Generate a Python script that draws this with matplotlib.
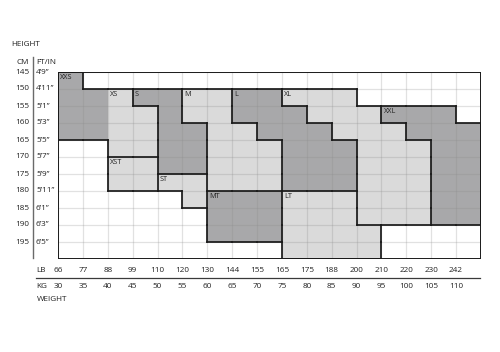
import matplotlib
matplotlib.use("Agg")
import matplotlib.pyplot as plt
from matplotlib.patches import Rectangle
from matplotlib.collections import LineCollection
from matplotlib.transforms import blended_transform_factory as btf

plt.rcParams['font.family'] = ['Open Sans', 'DejaVu Sans']

# ---- data ----
cm_values = [145, 150, 155, 160, 165, 170, 175, 180, 185, 190, 195]
ftin_labels = ["4’9”", "4’11”", "5’1”", "5’3”", "5’5”", "5’7”", "5’9”", "5’11”",
               "6’1”", "6’3”", "6’5”"]
kg_values = [30, 35, 40, 45, 50, 55, 60, 65, 70, 75, 80, 85, 90, 95, 100, 105, 110]
lb_labels = ["66", "77", "88", "99", "110", "120", "130", "144", "155", "165",
             "175", "188", "200", "210", "220", "230", "242"]

# each size: rows of (cm_top, cm_bottom, kg_left, kg_right)
XXS = [(145, 150, 30, 35), (150, 165, 30, 40)]
XS = [(150, 155, 40, 45), (155, 170, 40, 50)]
S = [(150, 155, 45, 55), (155, 160, 50, 55), (160, 175, 50, 60)]
M = [(150, 160, 55, 65), (160, 165, 60, 70), (165, 180, 60, 75)]
L = [(150, 155, 65, 75), (155, 160, 65, 80), (160, 165, 70, 85), (165, 180, 75, 90)]
XL = [(150, 155, 75, 90), (155, 160, 80, 95), (160, 165, 85, 100), (165, 190, 90, 105)]
XXL = [(155, 160, 95, 110), (160, 165, 100, 115), (165, 190, 105, 115)]
XST = [(170, 180, 40, 50)]
ST = [(175, 180, 50, 60), (180, 185, 55, 60)]
MT = [(180, 195, 60, 75)]
LT = [(180, 190, 75, 90), (190, 200, 75, 95)]

size_names = ["XXS", "XS", "S", "M", "L", "XL", "XXL", "XST", "ST", "MT", "LT"]
size_rows = [XXS, XS, S, M, L, XL, XXL, XST, ST, MT, LT]
size_shade = ["dark", "light", "dark", "light", "dark", "light", "dark",
              "light", "light", "dark", "light"]

DARK = "#a8a8aa"
LIGHT = "#dadada"

# ---- figure ----
W, H = 500, 352
fig = plt.figure(figsize=(W / 100, H / 100), dpi=100)
fig.patch.set_facecolor("white")
x0, x1, y0, y1 = 58, 481, 72, 259
ax = fig.add_axes([x0 / W, 1 - y1 / H, (x1 - x0) / W, (y1 - y0) / H])
ax.set_xlim(30, 115)
ax.set_ylim(200, 145)
ax.set_axis_off()

def fx(px):
    return px / W

def fy(py):
    return 1 - py / H

# fills
for name, rows, shade in zip(size_names, size_rows, size_shade):
    col = DARK if shade == "dark" else LIGHT
    for (t, b, l, r) in rows:
        ax.add_patch(Rectangle((l, t), r - l, b - t, facecolor=col,
                               edgecolor="none", zorder=1))

# grid
for k in range(30, 116, 5):
    ax.plot([k, k], [145, 200], color="#8a8a8a", alpha=0.25, lw=0.9, zorder=2)
for c in range(145, 201, 5):
    ax.plot([30, 115], [c, c], color="#8a8a8a", alpha=0.25, lw=0.9, zorder=2)

# outlines: unit edges of each size region (XXS/XS shared edge left unlined)
edges = set()
for rows in size_rows:
    n = len(rows)
    for i, (t, b, l, r) in enumerate(rows):
        for c in range(t, b, 5):
            edges.add(((l, c), (l, c + 5)))
            edges.add(((r, c), (r, c + 5)))
        # top edge
        if i == 0:
            segs_t = [(l, r)]
        else:
            pt, pb, pl, pr = rows[i - 1]
            segs_t = [(min(l, pl), max(l, pl)), (min(r, pr), max(r, pr))]
        for (a, bb) in segs_t:
            for k in range(a, bb, 5):
                edges.add(((k, t), (k + 5, t)))
        if i == n - 1:
            for k in range(l, r, 5):
                edges.add(((k, b), (k + 5, b)))
skip = {((40, 150), (40, 155)), ((40, 155), (40, 160)), ((40, 160), (40, 165))}
segs = [e for e in edges if e not in skip]
ax.add_collection(LineCollection(segs, colors="#1a1a1a", linewidths=1.25,
                                 capstyle="projecting", zorder=3))

# labels of sizes
for name, rows in zip(size_names, size_rows):
    t, b, l, r = rows[0]
    ax.text(l + 0.45, t + 0.55, name, fontsize=5.2, color="#222222",
            ha="left", va="top", zorder=4)

# border
ax.add_patch(Rectangle((30, 145), 85, 55, fill=False, edgecolor="#1a1a1a",
                       lw=1.4, zorder=5))

FS = 5.9
TXT = "#222222"
# left axis
tl = btf(fig.transFigure, ax.transData)
fig.text(fx(11.5), fy(45), "HEIGHT", fontsize=FS, ha="left", va="center", color=TXT)
fig.text(fx(29), fy(62), "CM", fontsize=FS, ha="right", va="center", color=TXT)
fig.text(fx(36), fy(62), "FT/IN", fontsize=FS, ha="left", va="center", color=TXT)
fig.add_artist(plt.Line2D([fx(32.5), fx(32.5)], [fy(57), fy(258)],
                          color="#6a6a6a", lw=1.0))
for c, f in zip(cm_values, ftin_labels):
    fig.text(fx(29), c, str(c), fontsize=FS, ha="right", va="center",
             color=TXT, transform=tl)
    fig.text(fx(36), c, f, fontsize=FS, ha="left", va="center",
             color=TXT, transform=tl)

# bottom axis
tb = btf(ax.transData, fig.transFigure)
fig.text(fx(36.5), fy(270.5), "LB", fontsize=FS, ha="left", va="center", color=TXT)
fig.text(fx(36.5), fy(286), "KG", fontsize=FS, ha="left", va="center", color=TXT)
fig.add_artist(plt.Line2D([fx(36), fx(480)], [fy(278.3), fy(278.3)],
                          color="#3a3a3a", lw=0.9))
for k, lb in zip(kg_values, lb_labels):
    fig.text(k, fy(270.5), lb, fontsize=FS, ha="center", va="center",
             color=TXT, transform=tb)
    fig.text(k, fy(286), str(k), fontsize=FS, ha="center", va="center",
             color=TXT, transform=tb)
fig.text(fx(36.5), fy(299.5), "WEIGHT", fontsize=FS, ha="left", va="center", color=TXT)

fig.savefig("out.png", dpi=100, facecolor="white")
